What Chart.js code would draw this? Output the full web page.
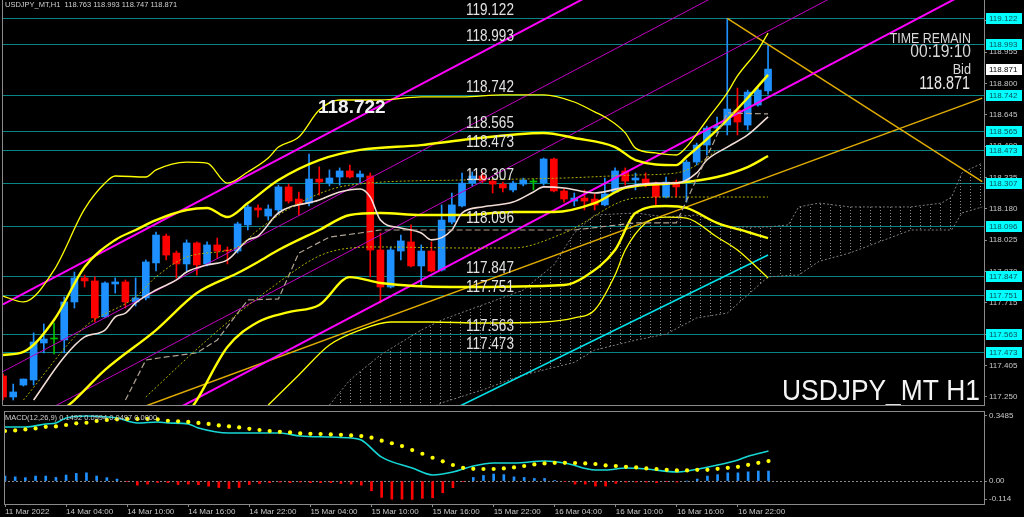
<!DOCTYPE html>
<html>
<head>
<meta charset="utf-8">
<script src="https://cdn.jsdelivr.net/npm/chart.js@4.4.1/dist/chart.umd.min.js"></script>
<style>
  html, body { margin: 0; padding: 0; background: #000; }
  #wrap { position: relative; width: 1024px; height: 517px; background: #000; overflow: hidden; }
  #main { position: absolute; left: 0; top: 0; width: 1024px; height: 407px; }
  #macd { position: absolute; left: 0; top: 407px; width: 1024px; height: 110px; }
</style>
</head>
<body>
<div id="wrap">
  <div id="main"><canvas id="priceChart"></canvas></div>
  <div id="macd"><canvas id="macdChart"></canvas></div>
</div>
<script>
const FONT = "'Liberation Sans', Arial, sans-serif";
const BULL = '#1e90ff', BEAR = '#ff0000', DOJI = '#00c000';
const AXIS = '#8a8a8a', AXIS_TXT = '#c8c8c8', LEVEL = '#0a8585';

// H1 candles, 11 Mar 22:00 .. 17 Mar 01:00
const opens  = [117.353,117.249,117.308,117.333,117.516,117.536,117.531,117.719,117.838,117.823,117.645,117.808,117.818,117.719,117.739,117.912,118.045,117.961,117.907,118.011,117.907,118.001,117.976,117.971,118.100,118.184,118.144,118.174,118.288,118.228,118.208,118.327,118.307,118.337,118.367,118.337,118.342,117.976,117.793,117.971,118.016,117.897,117.971,117.877,118.114,118.194,118.307,118.342,118.317,118.302,118.273,118.302,118.312,118.307,118.426,118.268,118.218,118.233,118.228,118.199,118.263,118.367,118.322,118.327,118.302,118.238,118.312,118.307,118.411,118.495,118.579,118.594,118.668,118.594,118.693,118.763];
const highs  = [117.363,117.313,117.338,117.566,117.610,117.615,117.744,117.867,117.852,117.843,117.818,117.838,117.828,117.838,117.927,118.065,118.055,117.971,118.026,118.016,118.016,118.035,117.991,118.114,118.199,118.199,118.199,118.297,118.302,118.263,118.451,118.387,118.372,118.382,118.396,118.367,118.357,118.060,117.991,118.050,118.100,118.001,118.016,118.199,118.258,118.357,118.362,118.362,118.327,118.312,118.317,118.332,118.327,118.431,118.431,118.278,118.258,118.273,118.253,118.332,118.382,118.382,118.357,118.357,118.312,118.337,118.322,118.421,118.505,118.589,118.634,119.122,118.777,118.767,118.777,118.993];
const lows   = [117.234,117.234,117.303,117.308,117.467,117.462,117.467,117.689,117.793,117.620,117.640,117.763,117.689,117.699,117.729,117.872,117.927,117.838,117.872,117.852,117.897,117.936,117.907,117.961,118.075,118.139,118.124,118.154,118.208,118.149,118.194,118.248,118.293,118.297,118.332,118.307,117.843,117.714,117.788,117.927,117.892,117.798,117.867,117.872,118.105,118.189,118.293,118.307,118.258,118.263,118.263,118.293,118.273,118.297,118.263,118.213,118.194,118.174,118.174,118.194,118.258,118.297,118.273,118.288,118.194,118.233,118.238,118.213,118.396,118.446,118.555,118.545,118.545,118.570,118.688,118.747];
const closes = [117.249,117.274,117.338,117.521,117.536,117.536,117.719,117.838,117.823,117.640,117.813,117.818,117.719,117.739,117.917,118.050,117.951,117.907,118.011,117.902,118.001,117.971,117.971,118.105,118.189,118.174,118.179,118.288,118.218,118.203,118.327,118.312,118.332,118.367,118.337,118.352,117.976,117.793,117.976,118.021,117.897,117.971,117.872,118.124,118.199,118.307,118.342,118.317,118.302,118.283,118.307,118.322,118.312,118.426,118.268,118.228,118.233,118.218,118.199,118.253,118.367,118.317,118.332,118.307,118.238,118.312,118.288,118.411,118.495,118.579,118.589,118.673,118.609,118.757,118.767,118.871];

const timeLabels = ['11 Mar 2022', '14 Mar 04:00', '14 Mar 10:00', '14 Mar 16:00', '14 Mar 22:00', '15 Mar 04:00', '15 Mar 10:00',
                    '15 Mar 16:00', '15 Mar 22:00', '16 Mar 04:00', '16 Mar 10:00', '16 Mar 16:00', '16 Mar 22:00'];
const labelStep = 6;
const priceTicks = [117.250, 117.405, 117.560, 117.715, 117.870, 118.025, 118.180, 118.335, 118.490, 118.645, 118.800, 118.955, 119.110];
const levels = [119.122, 118.993, 118.742, 118.565, 118.473, 118.307, 118.096, 117.847, 117.751, 117.563, 117.473];
const bid = 118.871;
const marker = 118.722;

// indicator curves as [bar, price]
const bbThinUp = [[0,117.748],[2,117.719],[5,117.877],[8,118.179],[10,118.307],[11,118.342],[14,118.337],[15,118.372],[18,118.411],[20,118.406],[22,118.307],[24,118.362],[26,118.431],[27,118.485],[29,118.535],[31,118.668],[33,118.718],[37,118.718],[41,118.733],[45,118.733],[49,118.743],[53,118.743],[56,118.708],[58,118.659],[59,118.634],[61,118.555],[62,118.480],[64,118.456],[66,118.446],[67,118.485],[69,118.619],[71,118.753],[72,118.837],[74,118.965],[75,119.049]];
const bbThickUp = [[0,117.457],[2,117.472],[5,117.630],[8,117.892],[11,118.026],[13,118.075],[15,118.124],[18,118.174],[20,118.184],[22,118.139],[24,118.208],[27,118.322],[31,118.421],[35,118.471],[41,118.495],[45,118.520],[53,118.555],[56,118.530],[60,118.485],[62,118.421],[66,118.396],[67,118.436],[70,118.570],[73,118.728],[75,118.842]];
const bbMid = [[5,117.150],[7,117.234],[10,117.383],[15,117.580],[19,117.763],[23,117.862],[25,117.917],[27,117.976],[31,118.075],[34,118.149],[37,118.159],[41,118.149],[45,118.149],[50,118.164],[54,118.164],[58,118.208],[61,118.283],[66,118.307],[70,118.337],[73,118.386],[75,118.441]];
const bbThickLow = [[17,117.086],[19,117.234],[22,117.496],[25,117.620],[28,117.669],[31,117.704],[34,117.842],[37,117.813],[44,117.793],[55,117.803],[57,117.843],[60,117.976],[62,118.159],[65,118.194],[67,118.184],[70,118.110],[73,118.065],[75,118.035]];
const bbThinLow = [[26,117.209],[29,117.358],[32,117.506],[35,117.580],[38,117.620],[42,117.620],[47,117.615],[53,117.620],[56,117.640],[58,117.679],[60,117.852],[61,117.976],[63,118.110],[65,118.139],[67,118.134],[70,118.040],[72,117.976],[75,117.838]];
const maPink = [[3,117.234],[6,117.447],[8,117.546],[10,117.580],[11,117.645],[12,117.664],[13,117.714],[15,117.778],[17,117.828],[18,117.867],[20,117.902],[22,117.927],[24,118.026],[25,118.045],[27,118.159],[31,118.223],[33,118.263],[35,118.278],[36,118.238],[37,118.124],[39,118.085],[41,118.060],[42,118.026],[44,118.075],[45,118.159],[47,118.189],[50,118.213],[52,118.263],[53,118.288],[55,118.283],[58,118.258],[61,118.288],[64,118.307],[66,118.307],[68,118.357],[69,118.421],[71,118.485],[73,118.545],[75,118.634]];
const dotFast = [[2,117.234],[8,117.595],[13,117.744],[15,117.843],[18,117.941],[23,117.991],[25,118.075],[29,118.208],[34,118.297],[45,118.322],[55,118.332],[62,118.347],[66,118.357],[68,118.396],[70,118.471]];
const dotSlow = [[14,117.249],[20,117.531],[26,117.778],[32,117.966],[37,117.991],[45,117.986],[50,117.986],[55,118.060],[62,118.233],[66,118.238],[75,118.238]];
const kijun = [[12,117.234],[14,117.432],[16,117.447],[19,117.467],[21,117.531],[23,117.664],[24,117.729],[27,117.734],[29,117.961],[32,118.040],[35,118.060],[37,118.075],[56,118.075],[62,118.110],[66,118.110],[71,118.654],[75,118.649]];
const cloudBars = [32,34,37,41,43,47,51,54,56,58,62,65,68,71,75,77,78,80,83,89,92,93,94,96];
const spanA = [117.209,117.333,117.457,117.580,117.630,117.704,117.778,117.902,118.060,118.149,118.159,118.139,118.149,118.090,118.090,118.100,118.189,118.208,118.189,118.189,118.208,118.238,118.357,118.406];
const spanB = [117.150,117.150,117.150,117.170,117.220,117.284,117.358,117.395,117.420,117.481,117.530,117.560,117.640,117.664,117.843,117.850,117.852,117.920,117.961,118.075,118.075,118.075,118.159,118.189];

// trend lines [bar, price]
const magentaA = [[0,117.707],[60,119.301]];
const magentaB = [[0,116.737],[96,119.289]];
const magentaC = [[0,117.375],[80,119.502]];
const magentaD = [[0,117.069],[96,119.616]];
const goldUp = [[0,116.945],[96,118.727]];
const goldDown = [[71,119.122],[96,118.314]];
const cyanTrend = [[40,117.086],[75,117.951]];

// MACD(12,26,9)
const macdLine = [[0,0.269],[2,0.269],[4,0.284],[5,0.289],[6,0.314],[8,0.324],[10,0.319],[11,0.314],[13,0.289],[15,0.294],[16,0.289],[18,0.284],[19,0.264],[22,0.239],[24,0.239],[27,0.239],[29,0.224],[32,0.219],[34,0.214],[35,0.204],[37,0.119],[40,0.065],[42,0.030],[44,0.045],[46,0.075],[48,0.090],[50,0.090],[53,0.100],[55,0.090],[58,0.055],[59,0.055],[61,0.065],[63,0.060],[66,0.045],[67,0.050],[70,0.080],[72,0.105],[73,0.124],[75,0.1492]];
const signal = [0.249,0.252,0.257,0.262,0.270,0.272,0.279,0.287,0.290,0.299,0.304,0.307,0.309,0.309,0.309,0.307,0.300,0.297,0.294,0.289,0.284,0.277,0.272,0.267,0.260,0.254,0.249,0.245,0.242,0.237,0.235,0.234,0.232,0.230,0.227,0.224,0.216,0.201,0.188,0.174,0.154,0.136,0.116,0.098,0.080,0.066,0.061,0.060,0.060,0.063,0.068,0.075,0.083,0.088,0.091,0.091,0.090,0.088,0.085,0.078,0.075,0.071,0.068,0.063,0.060,0.056,0.053,0.053,0.056,0.056,0.061,0.066,0.071,0.081,0.091,0.0994];
const hist = [0.025,0.021,0.017,0.025,0.025,0.018,0.030,0.038,0.041,0.025,0.017,0.010,-0.003,-0.020,-0.015,-0.007,-0.008,-0.017,-0.015,-0.018,-0.025,-0.032,-0.037,-0.032,-0.017,-0.012,-0.008,-0.005,-0.008,-0.005,-0.008,-0.008,-0.008,-0.012,-0.015,-0.020,-0.048,-0.081,-0.090,-0.090,-0.091,-0.086,-0.083,-0.058,-0.033,-0.003,0.018,0.028,0.035,0.032,0.021,0.018,0.013,0.013,0.003,-0.003,-0.015,-0.015,-0.025,-0.025,-0.012,-0.005,-0.005,-0.005,-0.008,-0.003,-0.005,0.000,0.010,0.025,0.032,0.041,0.041,0.046,0.050,0.0497];
const macdTicks = ['0.3485', '0.00', '-0.114'];

const X_MIN = -0.1, X_MAX = 96.17;
const Y_MIN = 117.2094, Y_MAX = 119.2125;

const bars = opens.map((_, i) => i);
const candleColor = bars.map(i => closes[i] > opens[i] ? BULL : closes[i] < opens[i] ? BEAR : DOJI);

const pts = arr => arr.map(([x, y]) => ({ x, y }));
const curve = (arr, color, width, extra) => Object.assign({
    type: 'line', data: pts(arr), borderColor: color, borderWidth: width,
    pointRadius: 0, fill: false, cubicInterpolationMode: 'monotone', order: 1
}, extra || {});
const straight = (arr, color, width, extra) =>
    curve(arr, color, width, Object.assign({ cubicInterpolationMode: 'default', tension: 0 }, extra || {}));

// hatch used for the ichimoku cloud
const hatchCanvas = document.createElement('canvas');
hatchCanvas.width = 10; hatchCanvas.height = 3;
const hc = hatchCanvas.getContext('2d');
hc.fillStyle = '#8a8a8a';
hc.fillRect(0, 0, 1, 1);
const hatch = hc.createPattern(hatchCanvas, 'repeat');

function drawText(ctx, str, x, y, o) {
    ctx.save();
    ctx.font = (o.weight || 'normal') + ' ' + o.size + 'px ' + FONT;
    ctx.fillStyle = o.color || '#e0e0e0';
    ctx.textAlign = o.align || 'left';
    ctx.textBaseline = o.baseline || 'alphabetic';
    ctx.translate(x, y);
    ctx.scale(o.sx || 1, 1);
    ctx.fillText(str, 0, 0);
    ctx.restore();
}

const mainDecor = {
    id: 'mainDecor',
    beforeDatasetsDraw(chart) {
        const { ctx, chartArea: a, scales: { y } } = chart;
        ctx.save();
        ctx.strokeStyle = LEVEL;
        ctx.lineWidth = 1;
        levels.forEach(v => {
            const py = Math.round(y.getPixelForValue(v)) + 0.5;
            ctx.beginPath(); ctx.moveTo(a.left, py); ctx.lineTo(a.right, py); ctx.stroke();
        });
        ctx.restore();
    },
    afterDatasetsDraw(chart) {
        const { ctx, scales: { y } } = chart;
        levels.forEach(v => {
            drawText(ctx, v.toFixed(3), 466, y.getPixelForValue(v) - 3, { size: 16.5, sx: 0.82, color: '#e2e2e2' });
        });
        drawText(ctx, marker.toFixed(3), 318, y.getPixelForValue(marker) + 9,
            { size: 19, weight: 'bold', color: '#f2f2f2', baseline: 'middle' });
        drawText(ctx, 'USDJPY_MT,H1  118.763 118.993 118.747 118.871', 5, 5,
            { size: 7.5, color: '#d0d0d0', baseline: 'middle' });
        drawText(ctx, 'TIME REMAIN', 971, 43, { size: 15.5, sx: 0.8, align: 'right', color: '#d8d8d8' });
        drawText(ctx, '00:19:10', 971, 57, { size: 19, sx: 0.82, align: 'right', color: '#d8d8d8' });
        drawText(ctx, 'Bid', 971, 74, { size: 15.5, sx: 0.82, align: 'right', color: '#d8d8d8' });
        drawText(ctx, bid.toFixed(3), 970, 88.5, { size: 17.5, sx: 0.82, align: 'right', color: '#e8e8e8' });
        drawText(ctx, 'USDJPY_MT H1', 980, 400, { size: 30, sx: 0.88, align: 'right', color: '#f4f4f4' });
    },
    afterDraw(chart) {
        const { ctx, chartArea: a, scales: { y } } = chart;
        ctx.save();
        ctx.strokeStyle = AXIS;
        ctx.lineWidth = 1;
        ctx.beginPath();
        ctx.moveTo(a.left + 0.5, a.top); ctx.lineTo(a.left + 0.5, a.bottom + 0.5); ctx.lineTo(a.right, a.bottom + 0.5);
        ctx.stroke();
        ctx.font = '8px ' + FONT;
        ctx.textBaseline = 'middle';
        const box = (v, bg, fg) => {
            const py = Math.round(y.getPixelForValue(v));
            ctx.fillStyle = bg; ctx.fillRect(a.right + 2, py - 5, 36, 11);
            ctx.fillStyle = fg; ctx.fillText(v.toFixed(3), a.right + 5, py + 0.5);
        };
        levels.forEach(v => box(v, '#00ffff', '#0b4f55'));
        box(bid, '#ffffff', '#000000');
        ctx.restore();
    }
};

new Chart(document.getElementById('priceChart'), {
    type: 'bar',
    data: {
        datasets: [
            { type: 'line', data: pts(cloudBars.map((b, k) => [b, spanA[k]])), borderColor: '#7c7c7c', borderWidth: 1,
              borderDash: [2, 2], pointRadius: 0, fill: false, tension: 0, order: 9 },
            { type: 'line', data: pts(cloudBars.map((b, k) => [b, spanB[k]])), borderColor: '#7c7c7c', borderWidth: 1,
              borderDash: [2, 2], pointRadius: 0, fill: '-1', backgroundColor: hatch, tension: 0, order: 8 },
            { type: 'bar', data: bars.map(i => ({ x: i, y: [lows[i], highs[i]] })), backgroundColor: candleColor,
              barThickness: 1, grouped: false, order: 6 },
            { type: 'bar', data: bars.map(i => ({ x: i, y: [opens[i], closes[i]] })), backgroundColor: candleColor,
              barThickness: 7, minBarLength: 1, grouped: false, order: 5 },
            curve(dotSlow, '#b0b000', 1, { borderDash: [2, 2] }),
            curve(dotFast, '#b0b000', 1, { borderDash: [2, 2] }),
            straight(kijun, '#b0a292', 1.2, { borderDash: [6, 3] }),
            curve(maPink, '#f2dcd6', 1.6),
            curve(bbThinUp, '#ffff00', 1.3),
            curve(bbThinLow, '#ffff00', 1.3),
            curve(bbThickUp, '#ffff00', 2.4),
            curve(bbMid, '#ffff00', 2.4),
            curve(bbThickLow, '#ffff00', 2.4),
            straight(magentaC, '#c000c0', 1),
            straight(magentaD, '#c000c0', 1),
            straight(magentaA, '#ff00ff', 2),
            straight(magentaB, '#ff00ff', 2),
            straight(goldUp, '#e0ac00', 1.5),
            straight(goldDown, '#e0ac00', 1.5),
            straight(cyanTrend, '#00e0e8', 1.6)
        ]
    },
    options: {
        responsive: true,
        maintainAspectRatio: false,
        animation: false,
        events: [],
        layout: { padding: { left: 2, top: 0, right: 0, bottom: 2 } },
        plugins: { legend: { display: false }, tooltip: { enabled: false } },
        scales: {
            x: { type: 'linear', display: false, offset: false, min: X_MIN, max: X_MAX },
            y: {
                type: 'linear', position: 'right', min: Y_MIN, max: Y_MAX,
                afterBuildTicks: s => { s.ticks = priceTicks.map(v => ({ value: v })); },
                afterFit: s => { s.width = 40; s.paddingTop = 0; s.paddingBottom = 0; },
                ticks: { color: AXIS_TXT, font: { family: FONT, size: 8 }, padding: 2, callback: v => v.toFixed(3) },
                grid: { drawOnChartArea: false, color: AXIS, tickLength: 3 },
                border: { color: AXIS }
            }
        }
    },
    plugins: [mainDecor]
});

const macdDecor = {
    id: 'macdDecor',
    beforeDatasetsDraw(chart) {
        const { ctx, chartArea: a, scales: { y } } = chart;
        const py = Math.round(y.getPixelForValue(0)) + 0.5;
        ctx.save();
        ctx.strokeStyle = '#8a8a8a';
        ctx.setLineDash([2, 2]);
        ctx.beginPath(); ctx.moveTo(a.left, py); ctx.lineTo(a.right, py); ctx.stroke();
        ctx.restore();
    },
    afterDraw(chart) {
        const { ctx, chartArea: a } = chart;
        ctx.save();
        ctx.strokeStyle = AXIS;
        ctx.strokeRect(a.left + 0.5, a.top + 0.5, a.right - a.left, a.bottom - a.top);
        ctx.restore();
        drawText(ctx, 'MACD(12,26,9) 0.1492 0.0994 0.0497 0.0000', 5, a.top + 7,
            { size: 7.5, color: '#d0d0d0', baseline: 'middle' });
    }
};

new Chart(document.getElementById('macdChart'), {
    type: 'bar',
    data: {
        datasets: [
            { type: 'bar', data: bars.map(i => ({ x: i, y: hist[i] })),
              backgroundColor: hist.map(v => v >= 0 ? BULL : BEAR), barThickness: 2, order: 3 },
            { type: 'line', data: pts(macdLine), borderColor: '#16d6d6', borderWidth: 1.6, pointRadius: 0,
              cubicInterpolationMode: 'monotone', order: 2 },
            { type: 'line', data: bars.map(i => ({ x: i, y: signal[i] })), showLine: false, pointRadius: 2.1,
              pointBackgroundColor: '#ffff00', pointBorderWidth: 0, order: 1 }
        ]
    },
    options: {
        responsive: true,
        maintainAspectRatio: false,
        animation: false,
        events: [],
        layout: { padding: { left: 2, top: 3, right: 0, bottom: 0 } },
        plugins: { legend: { display: false }, tooltip: { enabled: false } },
        scales: {
            x: {
                type: 'linear', position: 'bottom', offset: false, min: X_MIN, max: X_MAX,
                afterBuildTicks: s => { s.ticks = timeLabels.map((_, k) => ({ value: k * labelStep })); },
                afterFit: s => { s.height = 13; s.paddingLeft = 0; s.paddingRight = 0; },
                ticks: { align: 'start', maxRotation: 0, autoSkip: false, color: AXIS_TXT, padding: 0,
                         font: { family: FONT, size: 8 }, callback: (v, k) => timeLabels[k] },
                grid: { drawOnChartArea: false, offset: false, color: AXIS, tickLength: 3 },
                border: { color: AXIS }
            },
            y: {
                type: 'linear', position: 'right', min: -0.114, max: 0.3485,
                afterBuildTicks: s => {
                    const inset = (s.max - s.min) * 5 / 94;
                    s.ticks = [{ value: s.max - inset }, { value: 0 }, { value: s.min + inset }];
                },
                afterFit: s => { s.width = 40; s.paddingTop = 0; s.paddingBottom = 0; },
                ticks: { color: AXIS_TXT, font: { family: FONT, size: 8 }, padding: 2, callback: (v, k) => macdTicks[k] },
                grid: { drawOnChartArea: false, color: AXIS, tickLength: 3 },
                border: { color: AXIS }
            }
        }
    },
    plugins: [macdDecor]
});
</script>
</body>
</html>
